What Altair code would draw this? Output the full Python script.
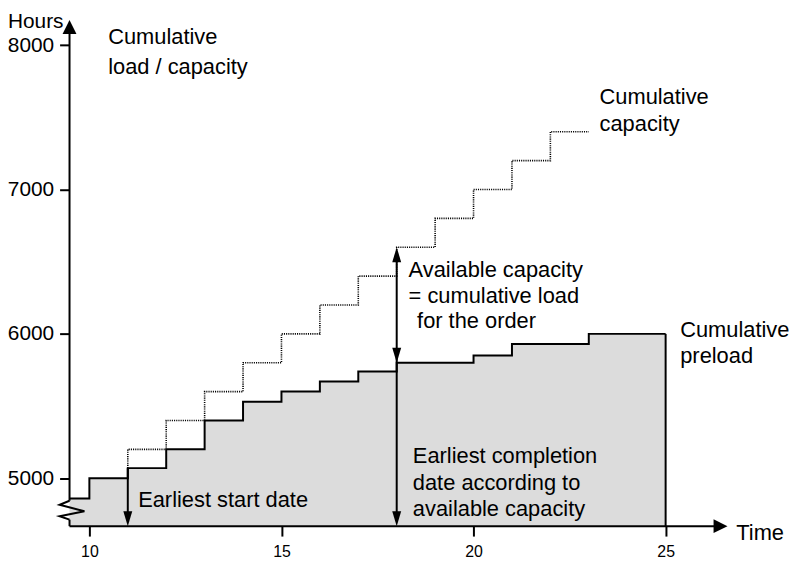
import altair as alt
import pandas as pd

FONT = "Liberation Sans"

# ---- data ----
# cumulative preload (solid step line over grey area)
preload_x = [9.4833, 10, 11, 12, 13, 14, 15, 16, 17, 18, 20, 21, 23, 25]
preload_y = [4860, 5000, 5070, 5200, 5400, 5530, 5600, 5670, 5740, 5800, 5850, 5930, 6000, 6000]

# cumulative capacity (dotted step line)
capacity_x = [11, 11, 12, 13, 14, 15, 16, 17, 18, 19, 20, 21, 22, 23]
capacity_y = [5070, 5200, 5400, 5600, 5800, 6000, 6200, 6400, 6600, 6800, 7000, 7200, 7400, 7400]

x_ticks = [10, 15, 20, 25]
y_ticks = [5000, 6000, 7000, 8000]

X_MIN, X_MAX = 9.4833, 26.61
Y_MIN, Y_MAX = 4668, 8174

# vertical / horizontal lines: axis lines and arrow shafts
rule_x = [X_MIN, X_MIN, X_MIN, 11, 18, 25]
rule_x2 = [X_MIN, X_MIN, X_MAX - 0.15, 11, 18, 25]
rule_y = [4844, Y_MIN, Y_MIN, Y_MIN + 40, Y_MIN + 40, Y_MIN]
rule_y2 = [Y_MAX - 40, 4713, Y_MIN, 5070, 6560, 6000]

# axis break zig-zag
zig_x = [X_MIN, 9.225, 9.871, 9.225, X_MIN]
zig_y = [4844, 4816, 4771, 4737, 4713]

# arrow heads
UP_BIG = "M0,0L-0.5,1L0.5,1Z"
RIGHT_BIG = "M0,0L-1,-0.5L-1,0.5Z"
DOWN = "M0,0L-0.3,-1L0.3,-1Z"
UP = "M0,0L-0.3,1L0.3,1Z"
arrow_x = [X_MIN, X_MAX, 11, 18, 18, 18]
arrow_y = [Y_MAX, Y_MIN, Y_MIN, Y_MIN, 6600, 5800]
arrow_shape = [UP_BIG, RIGHT_BIG, DOWN, DOWN, UP, DOWN]
arrow_size = [784, 784, 900, 900, 900, 900]

# text annotations
text_label = ["Cumulative", "load / capacity",
              "Cumulative", "capacity",
              "Available capacity", "= cumulative load", "for the order",
              "Cumulative", "preload",
              "Earliest start date",
              "Earliest completion", "date according to", "available capacity",
              "Hours", "Time"]
text_x = [10.49, 10.49,
          23.28, 23.28,
          18.31, 18.31, 18.53,
          25.38, 25.38,
          11.27,
          18.42, 18.42, 18.42,
          7.88, 26.84]
text_y = [8005, 7798,
          7592, 7405,
          6396, 6217, 6038,
          5976, 5797,
          4800,
          5103, 4921, 4739,
          8117, 4575]
text_size = [22, 22, 22, 22, 22, 22, 22, 22, 22, 22, 22, 22, 22, 21, 22]

# ---- tables ----
preload = pd.DataFrame({"x": preload_x, "y": preload_y, "base": Y_MIN})
capacity = pd.DataFrame({"x": capacity_x, "y": capacity_y, "i": range(len(capacity_x))})
rules = pd.DataFrame({"x": rule_x, "x2": rule_x2, "y": rule_y, "y2": rule_y2})
zig = pd.DataFrame({"x": zig_x, "y": zig_y, "i": range(len(zig_x))})
arrows = pd.DataFrame({"x": arrow_x, "y": arrow_y, "shape": arrow_shape, "size": arrow_size})
texts = pd.DataFrame({"x": text_x, "y": text_y, "label": text_label, "fs": text_size})

x_scale = alt.Scale(domain=[X_MIN, X_MAX], nice=False, zero=False)
y_scale = alt.Scale(domain=[Y_MIN, Y_MAX], nice=False, zero=False)

x_axis = alt.Axis(values=x_ticks, format="d", title=None, domain=False, grid=False,
                  tickSize=10, tickWidth=2, tickColor="black",
                  labelFontSize=16, labelPadding=8, labelColor="black", labelFont=FONT,
                  labelFlush=False, labelOverlap=False)
y_axis = alt.Axis(values=y_ticks, format="d", title=None, domain=False, grid=False,
                  tickSize=10, tickWidth=2, tickColor="black",
                  labelFontSize=21, labelPadding=6, labelColor="black", labelFont=FONT,
                  labelOverlap=False)


def X():
    return alt.X("x:Q", scale=x_scale, axis=x_axis)


def Y():
    return alt.Y("y:Q", scale=y_scale, axis=y_axis)


area = alt.Chart(preload).mark_area(interpolate="step-after", color="#dcdcdc", opacity=1).encode(
    x=X(), y=Y(), y2="base:Q")
pre_line = alt.Chart(preload).mark_line(interpolate="step-after", color="black", strokeWidth=2).encode(
    x=X(), y=Y())
cap_line = alt.Chart(capacity).mark_line(interpolate="step-after", color="black", strokeWidth=1.6,
                                         strokeDash=[1.1, 1.1]).encode(
    x=X(), y=Y(), order="i:Q")
rule_layer = alt.Chart(rules).mark_rule(color="black", strokeWidth=2).encode(
    x=X(), x2="x2:Q", y=Y(), y2="y2:Q")
zig_layer = alt.Chart(zig).mark_line(color="black", strokeWidth=2).encode(
    x=X(), y=Y(), order="i:Q")
arrow_layer = alt.Chart(arrows).mark_point(filled=True, opacity=1, color="black", strokeWidth=0).encode(
    x=X(), y=Y(), shape=alt.Shape("shape:N", scale=None), size=alt.Size("size:Q", scale=None))
text_layer = alt.Chart(texts).mark_text(align="left", baseline="alphabetic", font=FONT, color="black").encode(
    x=X(), y=Y(), text="label:N", size=alt.Size("fs:Q", scale=None))

chart = alt.layer(area, pre_line, cap_line, rule_layer, zig_layer, arrow_layer, text_layer).properties(
    width=663, height=510,
    padding={"left": 62, "top": 10, "right": 62, "bottom": 36},
    autosize=alt.AutoSizeParams(type="none"),
    background="white",
).configure_view(stroke=None)

chart.save("out.html", embed_options={"renderer": "svg", "actions": False})
